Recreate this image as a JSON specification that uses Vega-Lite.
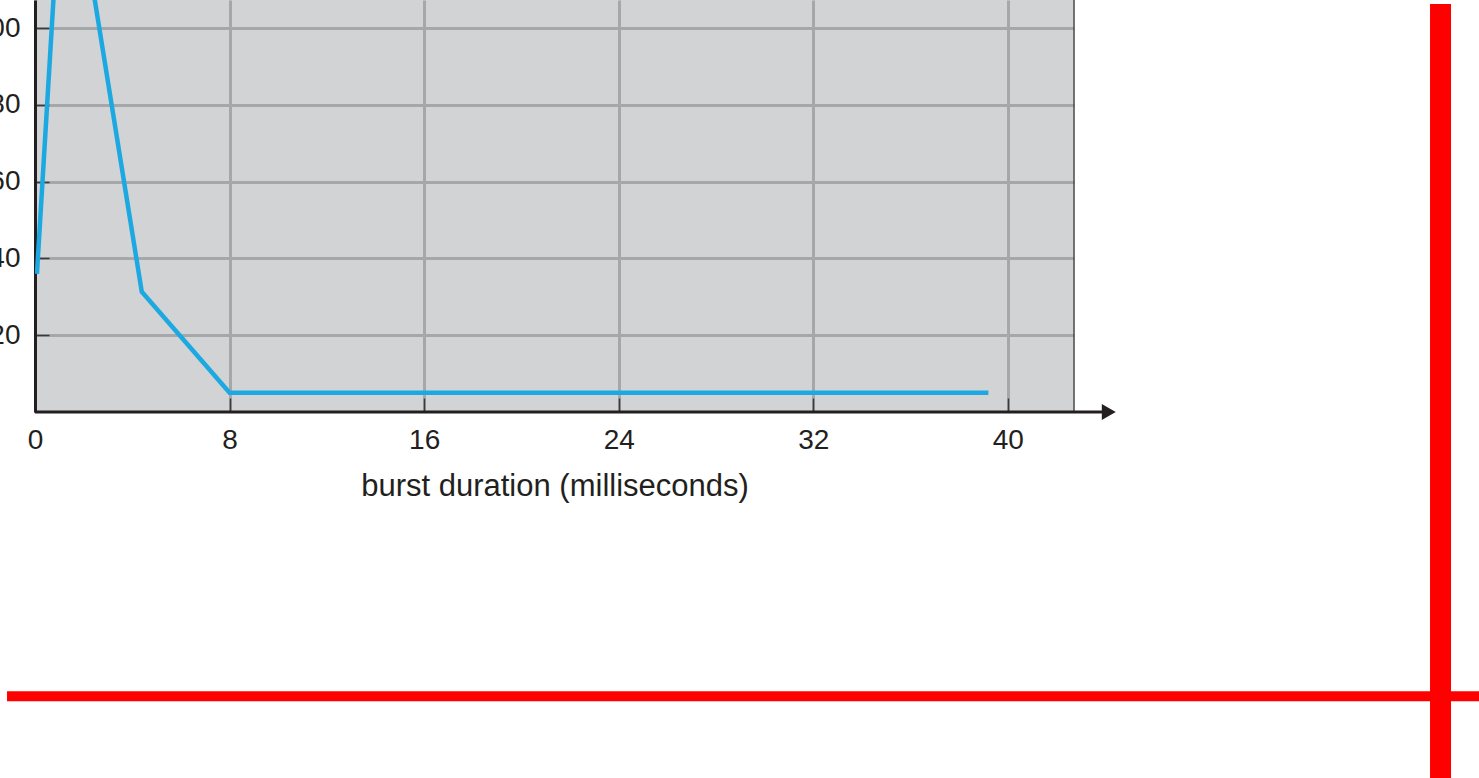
{
  "$schema": "https://vega.github.io/schema/vega-lite/v6.json",
  "autosize": {"type": "none"},
  "padding": {"left": 35, "top": 0, "right": 405, "bottom": 366},
  "width": 1039,
  "height": 412,
  "background": "#ffffff",
  "config": {
    "view": {"stroke": null, "fill": "#d1d3d4"},
    "font": "Liberation Sans"
  },
  "datasets": {
    "bursts": [
      {"duration": 0.08, "frequency": 36},
      {"duration": 1.22, "frequency": 156},
      {"duration": 4.39, "frequency": 31.3},
      {"duration": 8, "frequency": 5},
      {"duration": 39.2, "frequency": 5}
    ],
    "vguide": [{"x": 57.79, "y": 106.25, "y2": -110}],
    "hguide": [{"x": -1.15, "x2": 59.4, "y": -74}]
  },
  "layer": [
    {
      "data": {"name": "bursts"},
      "mark": {"type": "line", "color": "#1ca9e1", "strokeWidth": 4.5, "clip": true, "strokeJoin": "miter"},
      "encoding": {
        "x": {
          "field": "duration",
          "type": "quantitative",
          "scale": {"domain": [0, 42.72], "nice": false, "zero": false},
          "axis": {
            "values": [0, 8, 16, 24, 32, 40],
            "title": "burst duration (milliseconds)",
            "domain": false,
            "grid": true,
            "gridColor": "#a5a7aa",
            "gridWidth": 3,
            "gridOpacity": 1,
            "ticks": true,
            "tickSize": -14,
            "tickColor": "#3a3a3a",
            "tickWidth": 1.5,
            "labelFontSize": 28,
            "labelColor": "#231f20",
            "labelPadding": 28,
            "labelFlush": false,
            "titleFontSize": 31,
            "titleFontWeight": "normal",
            "titleColor": "#231f20",
            "titlePadding": 17
          }
        },
        "y": {
          "field": "frequency",
          "type": "quantitative",
          "scale": {"domain": [0, 107.3], "nice": false, "zero": false},
          "axis": {
            "values": [20, 40, 60, 80, 100],
            "title": "frequency",
            "domain": true,
            "domainColor": "#231f20",
            "domainWidth": 3,
            "grid": true,
            "gridColor": "#a5a7aa",
            "gridWidth": 3,
            "gridOpacity": 1,
            "ticks": true,
            "tickSize": -14,
            "tickColor": "#3a3a3a",
            "tickWidth": 1.5,
            "labelFontSize": 28,
            "labelColor": "#231f20",
            "labelPadding": 29,
            "labelFlush": false,
            "titleFontSize": 31,
            "titleFontWeight": "normal",
            "titleColor": "#231f20"
          }
        }
      }
    },
    {
      "data": {"values": [{}]},
      "mark": {"type": "rule", "color": "#4a4a4a", "strokeWidth": 1.5},
      "encoding": {"x": {"value": "width"}}
    },
    {
      "data": {"values": [{}]},
      "mark": {"type": "rule", "color": "#231f20", "strokeWidth": 3, "clip": false},
      "encoding": {
        "x": {"datum": 0, "type": "quantitative"},
        "x2": {"datum": 44.2},
        "y": {"datum": 0, "type": "quantitative"}
      }
    },
    {
      "data": {"values": [{}]},
      "mark": {"type": "point", "shape": "triangle-right", "filled": true, "color": "#231f20", "opacity": 1, "size": 260, "clip": false},
      "encoding": {
        "x": {"datum": 44.15, "type": "quantitative"},
        "y": {"datum": 0, "type": "quantitative"}
      }
    },
    {
      "data": {"name": "vguide"},
      "mark": {"type": "rule", "color": "#ff0000", "strokeWidth": 21, "clip": false},
      "encoding": {
        "x": {"field": "x", "type": "quantitative"},
        "y": {"field": "y", "type": "quantitative"},
        "y2": {"field": "y2"}
      }
    },
    {
      "data": {"name": "hguide"},
      "mark": {"type": "rule", "color": "#ff0000", "strokeWidth": 10, "clip": false},
      "encoding": {
        "x": {"field": "x", "type": "quantitative"},
        "x2": {"field": "x2"},
        "y": {"field": "y", "type": "quantitative"}
      }
    }
  ]
}
